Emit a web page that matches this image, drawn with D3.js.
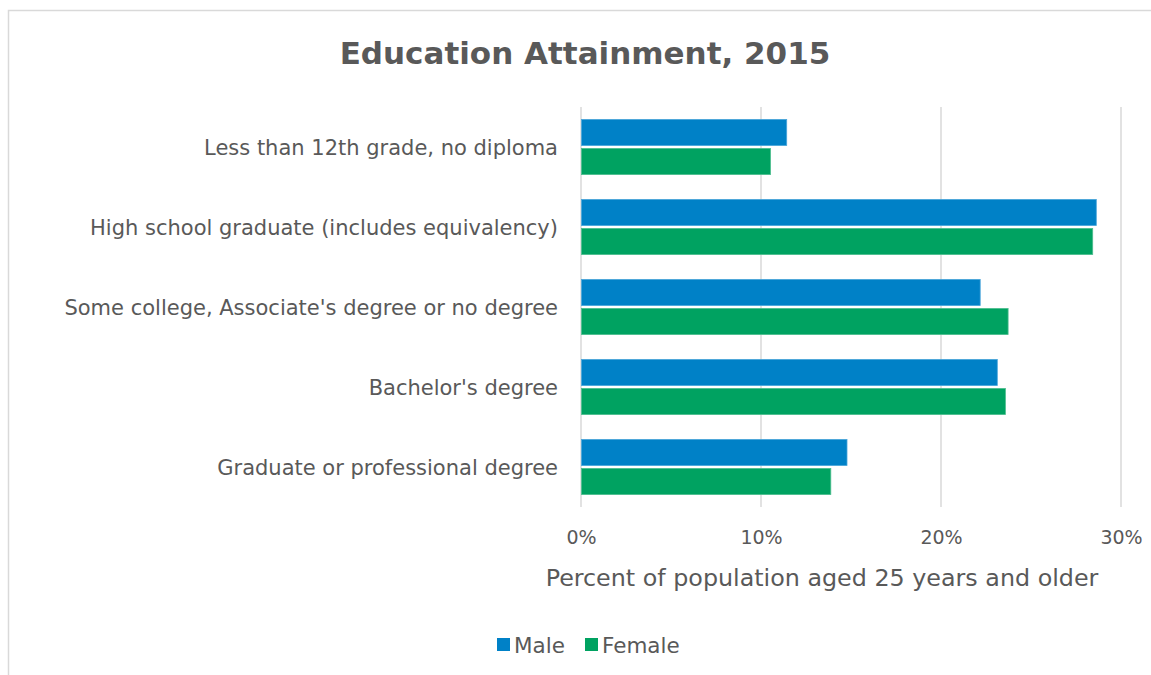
<!DOCTYPE html>
<html><head><meta charset="utf-8">
<script src="https://cdn.jsdelivr.net/npm/d3@7"></script>
<style>body{margin:0;background:#fff}svg{display:block}text{font-family:"DejaVu Sans",sans-serif;fill:#595959}</style>
</head><body><svg id="c" width="1151" height="675"></svg>
<script>
const categories = ["Less than 12th grade, no diploma","High school graduate (includes equivalency)","Some college, Associate's degree or no degree","Bachelor's degree","Graduate or professional degree"];
const seriesNames = ["Male","Female"];
const male = [11.4, 28.6, 22.15, 23.1, 14.75];
const female = [10.5, 28.4, 23.7, 23.55, 13.85];
const xTicks = [0,10,20,30];
const colors = ["#0081C7","#00A261"];
const strokes = ["#4aa6da","#4dbd8e"];

const svg = d3.select("#c");
svg.append("rect").attr("x",8.5).attr("y",10.5).attr("width",1160).attr("height",700)
  .attr("fill","none").attr("stroke","#d9d9d9").attr("stroke-width",1.5);

const x = d3.scaleLinear().domain([0,30]).range([581,1121]);
const y = d3.scaleBand().domain(categories).range([107,507]).paddingInner(0.31).paddingOuter(0.155);
const y1 = d3.scaleBand().domain(seriesNames).range([0,y.bandwidth()]).paddingInner(0.1);

svg.append("g").selectAll("line").data(xTicks).join("line")
  .attr("x1",d=>x(d)).attr("x2",d=>x(d)).attr("y1",107).attr("y2",507)
  .attr("stroke","#d9d9d9").attr("stroke-width",1.5);

const data = categories.map((c,i)=>({c, vals:[male[i],female[i]]}));
const g = svg.append("g").selectAll("g").data(data).join("g")
  .attr("transform",d=>`translate(0,${y(d.c)})`);
g.selectAll("rect").data(d=>d.vals.map((v,j)=>({v,s:seriesNames[j],j}))).join("rect")
  .attr("x",x(0)+0.5).attr("y",d=>y1(d.s)).attr("width",d=>x(d.v)-x(0)).attr("height",y1.bandwidth())
  .attr("fill",d=>colors[d.j]).attr("stroke",d=>strokes[d.j]).attr("stroke-width",0.8);

svg.append("g").selectAll("text").data(categories).join("text")
  .attr("x",558).attr("y",d=>y(d)+y.bandwidth()/2).attr("dy","0.36em")
  .attr("text-anchor","end").attr("font-size",21).text(d=>d);

const xAxis = svg.append("g").attr("transform","translate(0,507)")
  .call(d3.axisBottom(x).tickValues(xTicks).tickFormat(d=>d+"%").tickSize(0).tickPadding(24));
xAxis.select(".domain").remove();
xAxis.selectAll("text").attr("font-size",19).attr("fill","#595959").style("font-family","DejaVu Sans, sans-serif");

svg.append("text").attr("x",822).attr("y",586).attr("text-anchor","middle").attr("font-size",23.8)
  .text("Percent of population aged 25 years and older");

svg.append("text").attr("x",585).attr("y",64).attr("text-anchor","middle").attr("font-size",31)
  .attr("font-weight","bold").text("Education Attainment, 2015");

const leg = svg.append("g");
const legX = [497,585];
seriesNames.forEach((s,i)=>{
  leg.append("rect").attr("x",legX[i]).attr("y",638).attr("width",13).attr("height",13).attr("fill",colors[i]);
  leg.append("text").attr("x",legX[i]+17).attr("y",645).attr("dy","0.36em").attr("font-size",21.5).text(s);
});
</script></body></html>
